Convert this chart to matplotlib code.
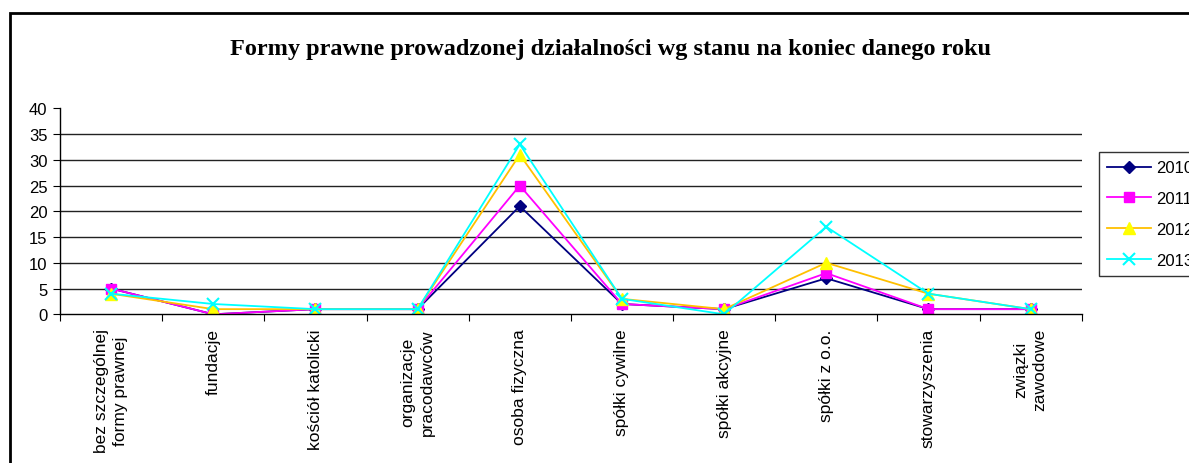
import matplotlib
matplotlib.use('Agg')
import matplotlib.pyplot as plt
from matplotlib.patches import Rectangle

# dane
kategorie = ['bez szczególnej\nformy prawnej', 'fundacje', 'kościół katolicki',
             'organizacje\npracodawców', 'osoba fizyczna', 'spółki cywilne',
             'spółki akcyjne', 'spółki z o.o.', 'stowarzyszenia', 'związki\nzawodowe']
lata = ['2010', '2011', '2012', '2013']
v2010 = [5, 0, 1, 1, 21, 2, 1, 7, 1, 1]
v2011 = [5, 0, 1, 1, 25, 2, 1, 8, 1, 1]
v2012 = [4, 1, 1, 1, 31, 3, 1, 10, 4, 1]
v2013 = [4, 2, 1, 1, 33, 3, 0, 17, 4, 1]
y_ticks = [0, 5, 10, 15, 20, 25, 30, 35, 40]

plt.rcParams['font.family'] = ['Liberation Sans', 'DejaVu Sans']

W, H = 1189, 464
fig = plt.figure(figsize=(W / 100, H / 100), dpi=100)

# ramka wykresu (ucięta z prawej i z dołu)
fig.patches.append(Rectangle((10 / W, -0.1), 1.2, (H - 14) / H + 0.1,
                             transform=fig.transFigure, fill=False,
                             edgecolor='black', linewidth=2))

fig.text(610 / W, 1 - 55 / H,
         'Formy prawne prowadzonej działalności wg stanu na koniec danego roku',
         ha='center', va='baseline', fontsize=17.5, fontweight='bold',
         family='Liberation Serif')

x0, x1 = 60, 1081.7
y_top, y_bot = 109.3, 315.3
ax = fig.add_axes([x0 / W, 1 - y_bot / H, (x1 - x0) / W, (y_bot - y_top) / H])

x = list(range(len(kategorie)))
ax.plot(x, v2010, color='#000080', marker='D', markersize=6, linewidth=1.3, label=lata[0])
ax.plot(x, v2011, color='#FF00FF', marker='s', markersize=7, linewidth=1.3, label=lata[1])
ax.plot(x, v2012, color='#FFC000', marker='^', markersize=8, linewidth=1.3,
        markerfacecolor='#FFFF00', markeredgecolor='#FFFF00', label=lata[2])
ax.plot(x, v2013, color='#00FFFF', marker='x', markersize=9, markeredgewidth=1.5,
        linewidth=1.3, label=lata[3])

ax.set_xlim(-0.5, len(kategorie) - 0.5)
ax.set_ylim(0, 40)
ax.set_yticks(y_ticks)
ax.set_yticklabels([str(t) for t in y_ticks], fontsize=12)
for t in y_ticks[1:-1]:
    ax.axhline(t, color='#222222', linewidth=1, zorder=0)

ax.set_xticks([i - 0.5 for i in range(len(kategorie) + 1)])
ax.set_xticklabels([])
ax.set_xticks(x, minor=True)
ax.set_xticklabels(kategorie, minor=True, rotation=90, fontsize=12.5,
                   va='top', ha='center', linespacing=1.35)
ax.tick_params(axis='x', which='minor', length=0, pad=10)
ax.tick_params(axis='x', which='major', length=5, direction='out')
ax.tick_params(axis='y', length=5, direction='out', pad=4)

ax.spines['top'].set_visible(False)
ax.spines['right'].set_visible(False)
ax.spines['left'].set_linewidth(1)
ax.spines['bottom'].set_linewidth(1)

leg = ax.legend(loc='upper left',
                bbox_to_anchor=((1099 - x0) / (x1 - x0), (y_bot - 153) / (y_bot - y_top)),
                borderaxespad=0, frameon=True, fancybox=False, edgecolor='black',
                fontsize=12, handlelength=2.6, borderpad=0.5, labelspacing=0.95,
                handletextpad=0.3)
leg.get_frame().set_linewidth(1)

fig.savefig('out.png', dpi=100)
